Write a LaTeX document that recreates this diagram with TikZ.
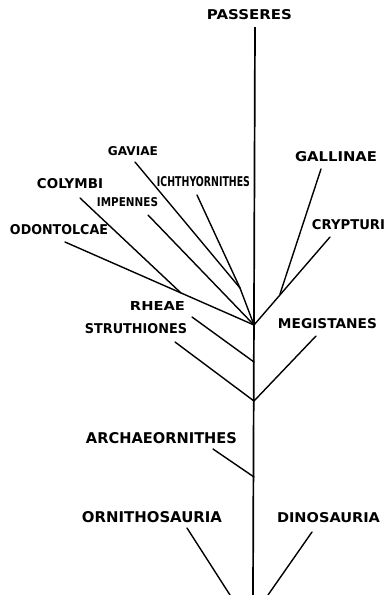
\documentclass[tikz,border=0pt]{standalone}
\usepackage{fontspec}
\setmainfont{DejaVu Sans}
\usepackage{graphicx}
\newcommand{\lab}[3]{\resizebox{#1pt}{#2pt}{\bfseries #3}}
\tikzset{
  lbl/.style={inner sep=0pt, anchor=center, text=black},
  br/.style={line width=1.4pt, black, line cap=round},
  trunk/.style={line width=1.7pt, black}
}
\begin{document}
\begin{tikzpicture}[x=1pt,y=-1pt]
\useasboundingbox[fill=white] (0,0) rectangle (386,595);
% labels
\node[lbl] (passeres) at (249.5,15) {\lab{85}{10}{PASSERES}};
\node[lbl] (gaviae) at (133,151) {\lab{50}{9}{GAVIAE}};
\node[lbl] (ichthy) at (203.5,182) {\lab{93}{10}{ICHTHYORNITHES}};
\node[lbl] (colymbi) at (70,184) {\lab{66}{10}{COLYMBI}};
\node[lbl] (impennes) at (127.5,202) {\lab{61}{9}{IMPENNES}};
\node[lbl] (odonto) at (59,230) {\lab{98}{10}{ODONTOLCAE}};
\node[lbl] (gallinae) at (336,157) {\lab{82}{10}{GALLINAE}};
\node[lbl] (crypturi) at (348.5,225) {\lab{73}{10}{CRYPTURI}};
\node[lbl] (rheae) at (157.5,306) {\lab{55}{9}{RHEAE}};
\node[lbl] (struth) at (136,329) {\lab{102}{10}{STRUTHIONES}};
\node[lbl] (megist) at (327.5,324) {\lab{99}{10}{MEGISTANES}};
\node[lbl] (archae) at (161.5,438.5) {\lab{151}{11}{ARCHAEORNITHES}};
\node[lbl] (ornitho) at (152,517) {\lab{140}{11}{ORNITHOSAURIA}};
\node[lbl] (dino) at (328.5,518) {\lab{103}{10}{DINOSAURIA}};
% coordinates
\coordinate (ttop) at (255,27);
\coordinate (tbot) at (253,595);
\coordinate (j1) at (254,325);
\coordinate (j2) at (254,401);
\coordinate (jg) at (240,288);
\coordinate (jc) at (181,293);
\coordinate (jgal) at (280,294);
\coordinate (jrh) at (254,362);
\coordinate (jar) at (254,477);
\coordinate (sodo) at (65,242);
\coordinate (scol) at (80,198);
\coordinate (simp) at (148,215);
\coordinate (sgav) at (135,162);
\coordinate (sich) at (197,195);
\coordinate (scry) at (330,237);
\coordinate (sgal) at (321,169);
\coordinate (srh) at (192,317);
\coordinate (sst) at (175,342);
\coordinate (smeg) at (316,336);
\coordinate (sar) at (213,449);
\coordinate (sorn) at (187,528);
\coordinate (eorn) at (230,595);
\coordinate (sdin) at (312,532);
\coordinate (edin) at (268,595);
% trunk
\draw[trunk] (ttop) -- (tbot);
% branches
\draw[br] (sodo) -- (j1);
\draw[br] (scol) -- (jc);
\draw[br] (simp) -- (j1);
\draw[br] (sgav) -- (jg);
\draw[br] (sich) -- (jg);
\draw[br] (jg) -- (j1);
\draw[br] (scry) -- (j1);
\draw[br] (sgal) -- (jgal);
\draw[br] (srh) -- (jrh);
\draw[br] (sst) -- (j2);
\draw[br] (smeg) -- (j2);
\draw[br] (sar) -- (jar);
\draw[br] (sorn) -- (eorn);
\draw[br] (sdin) -- (edin);
\end{tikzpicture}
\end{document}
